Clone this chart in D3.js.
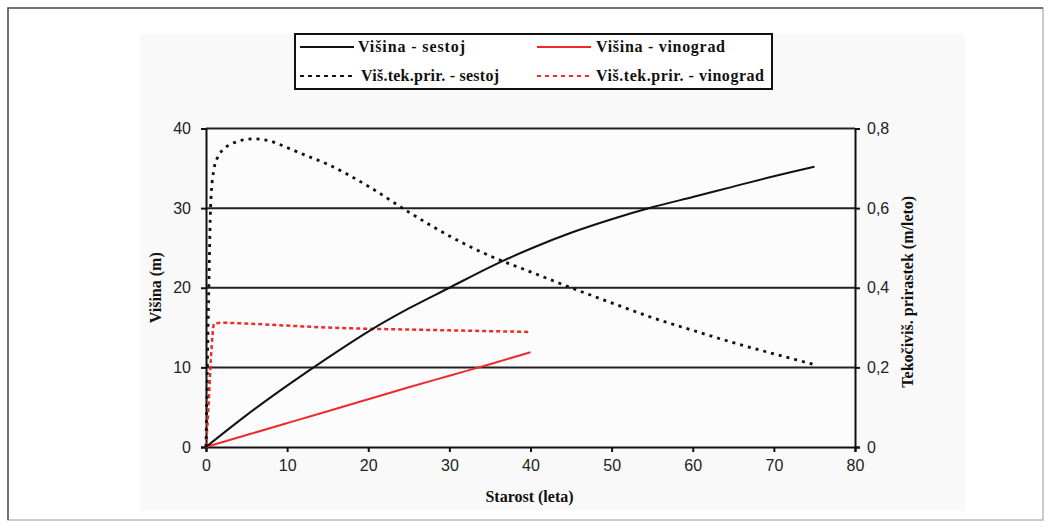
<!DOCTYPE html>
<html><head><meta charset="utf-8">
<script src="https://cdn.jsdelivr.net/npm/d3@7"></script>
<style>body{margin:0;background:#fff}svg{display:block}</style>
</head><body>
<svg id="c" width="1051" height="528"></svg>
<script>
// ---- data ----
const ageSestoj = [0, 5, 10, 15, 20, 25, 30, 35, 40, 45, 50, 55, 60, 65, 70, 75];
const visinaSestoj = [0, 4.0, 7.7, 11.2, 14.5, 17.4, 20.0, 22.6, 24.9, 26.9, 28.6, 30.1, 31.4, 32.7, 34.0, 35.2];
const ageVinograd = [0, 5, 10, 15, 20, 25, 30, 35, 40];
const visinaVinograd = [0, 1.5, 3.0, 4.5, 6.0, 7.5, 8.95, 10.4, 11.9];
const agePrirSestoj = [0, 0.3, 0.6, 1, 1.5, 2, 3, 4, 5, 6, 8, 10, 12, 15, 20, 25, 30, 35, 40, 45, 50, 55, 60, 65, 70, 75];
const prirSestoj = [0, 0.35, 0.62, 0.70, 0.73, 0.745, 0.76, 0.768, 0.773, 0.774, 0.768, 0.752, 0.735, 0.71, 0.655, 0.59, 0.53, 0.48, 0.44, 0.40, 0.362, 0.325, 0.293, 0.262, 0.234, 0.207];
const agePrirVinograd = [0, 0.3, 0.6, 1, 2, 5, 10, 15, 20, 25, 30, 35, 40];
const prirVinograd = [0, 0.1, 0.22, 0.31, 0.312, 0.31, 0.305, 0.30, 0.297, 0.295, 0.293, 0.291, 0.289];
const xTicks = [0, 10, 20, 30, 40, 50, 60, 70, 80];
const yLeftTicks = [0, 10, 20, 30, 40];
const yRightTicks = [0, 0.2, 0.4, 0.6, 0.8];
const seriesNames = ["Višina - sestoj", "Višina - vinograd", "Viš.tek.prir. - sestoj", "Viš.tek.prir. - vinograd"];
const xTitle = "Starost (leta)";
const yLeftTitle = "Višina (m)";
const yRightTitle = "Tekočiviš. prirastek (m/leto)";

// ---- layout ----
const svg = d3.select("#c");
const L = 206, R = 855, T = 128.5, B = 447;
const x = d3.scaleLinear().domain([0, 80]).range([L, R]);
const yL = d3.scaleLinear().domain([0, 40]).range([B, T]);
const yR = d3.scaleLinear().domain([0, 0.8]).range([B, T]);

// outer frame
svg.append("rect").attr("x", 8).attr("y", 8).attr("width", 1035).attr("height", 512)
  .attr("fill", "#fff").attr("stroke", "#bbb").attr("stroke-width", 1.5);
svg.append("path").attr("d", "M8,520 L8,8 L1043,8").attr("fill", "none").attr("stroke", "#555").attr("stroke-width", 1.5);
// chart area
svg.append("rect").attr("x", 140).attr("y", 34).attr("width", 825).attr("height", 477).attr("fill", "#f9f9f9");
svg.append("rect").attr("x", L).attr("y", T).attr("width", R - L).attr("height", B - T).attr("fill", "#fcfcfc");

const tickFont = "'Liberation Sans', Arial, sans-serif";
const serif = "'Liberation Serif', 'Times New Roman', serif";

// gridlines
svg.append("g").selectAll("line").data(yLeftTicks.filter(d => d > 0)).join("line")
  .attr("x1", L).attr("x2", R).attr("y1", d => yL(d)).attr("y2", d => yL(d))
  .attr("stroke", "#222").attr("stroke-width", 2);

// axes
const axB = svg.append("g").attr("transform", `translate(0,${B})`)
  .call(d3.axisBottom(x).tickValues(xTicks).tickSize(5).tickPadding(8).tickFormat(d3.format("d")));
const axL = svg.append("g").attr("transform", `translate(${L},0)`)
  .call(d3.axisLeft(yL).tickValues(yLeftTicks).tickSize(5).tickPadding(10).tickFormat(d3.format("d")));
const axR = svg.append("g").attr("transform", `translate(${R},0)`)
  .call(d3.axisRight(yR).tickValues(yRightTicks).tickSize(5).tickPadding(7).tickFormat(d => d === 0 ? "0" : d3.format(".1f")(d).replace(".", ",")));
[axB, axL, axR].forEach(a => {
  a.select(".domain").attr("stroke", "#111").attr("stroke-width", 2);
  a.selectAll(".tick line").attr("stroke", "#111").attr("stroke-width", 2);
  a.selectAll("text").attr("font-family", tickFont).attr("font-size", 16).attr("fill", "#222");
});

// lines
const lineL = (xs, ys) => d3.line().x((d, i) => x(xs[i])).y(d => yL(d)).curve(d3.curveMonotoneX)(ys);
const lineR = (xs, ys) => d3.line().x((d, i) => x(xs[i])).y(d => yR(d)).curve(d3.curveMonotoneX)(ys);
svg.append("path").attr("d", lineR(agePrirVinograd, prirVinograd)).attr("fill", "none")
  .attr("stroke", "#ee2a2a").attr("stroke-width", 2.5).attr("stroke-dasharray", "4,3");
svg.append("path").attr("d", lineR(agePrirSestoj, prirSestoj)).attr("fill", "none")
  .attr("stroke", "#111").attr("stroke-width", 2.8).attr("stroke-dasharray", "3,5");
svg.append("path").attr("d", lineL(ageVinograd, visinaVinograd)).attr("fill", "none")
  .attr("stroke", "#ee2a2a").attr("stroke-width", 2);
svg.append("path").attr("d", lineL(ageSestoj, visinaSestoj)).attr("fill", "none")
  .attr("stroke", "#111").attr("stroke-width", 2);

// axis titles
svg.append("text").attr("x", (L + R) / 2 - 1).attr("y", 502).attr("text-anchor", "middle")
  .attr("font-family", serif).attr("font-weight", "bold").attr("font-size", 16).attr("fill", "#111").text(xTitle);
svg.append("text").attr("transform", `translate(161,${(T + B) / 2}) rotate(-90)`).attr("text-anchor", "middle")
  .attr("font-family", serif).attr("font-weight", "bold").attr("font-size", 16).attr("fill", "#111").text(yLeftTitle);
svg.append("text").attr("transform", `translate(913,${(T + B) / 2 + 4}) rotate(-90)`).attr("text-anchor", "middle")
  .attr("font-family", serif).attr("font-weight", "bold").attr("font-size", 16).attr("fill", "#111").text(yRightTitle);

// legend
const lg = svg.append("g");
lg.append("rect").attr("x", 295).attr("y", 34).attr("width", 477).attr("height", 55)
  .attr("fill", "#fff").attr("stroke", "#111").attr("stroke-width", 2);
const legItems = [
  {name: seriesNames[0], c: "#111", dash: null, lx: 300, ly: 47, tx: 358, w: 107},
  {name: seriesNames[1], c: "#ee2a2a", dash: null, lx: 537, ly: 47, tx: 596, w: 129},
  {name: seriesNames[2], c: "#111", dash: "4,4", lx: 300, ly: 76, tx: 361, w: 138},
  {name: seriesNames[3], c: "#ee2a2a", dash: "4,4", lx: 537, ly: 76, tx: 596, w: 168}
];
legItems.forEach(it => {
  lg.append("line").attr("x1", it.lx).attr("x2", it.lx + 54).attr("y1", it.ly).attr("y2", it.ly)
    .attr("stroke", it.c).attr("stroke-width", 2).attr("stroke-dasharray", it.dash);
  lg.append("text").attr("x", it.tx).attr("y", it.ly + 5).attr("font-family", serif)
    .attr("font-weight", "bold").attr("font-size", 16).attr("fill", "#111")
    .attr("textLength", it.w).attr("lengthAdjust", "spacing").text(it.name);
});
</script>
</body></html>
